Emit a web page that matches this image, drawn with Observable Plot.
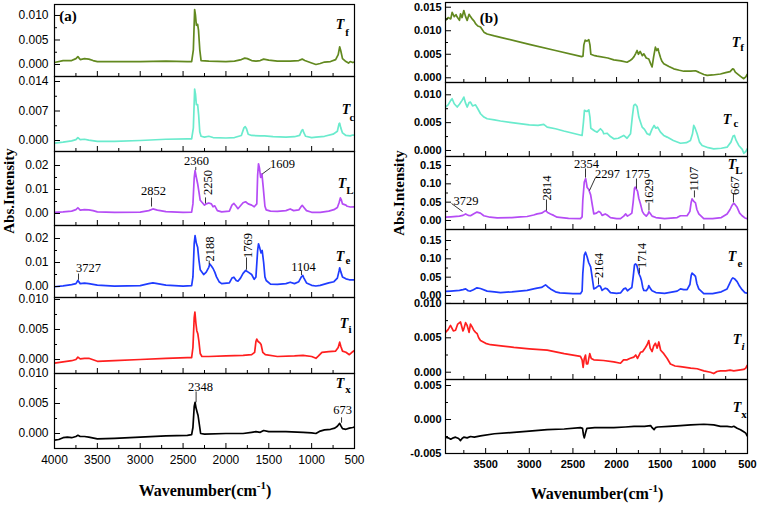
<!DOCTYPE html>
<html><head><meta charset="utf-8">
<script src="https://cdn.jsdelivr.net/npm/d3@7"></script>
<script src="https://cdn.jsdelivr.net/npm/@observablehq/plot@0.6"></script>
<style>
body{margin:0;background:#fff;}
#chart{position:relative;width:758px;height:506px;overflow:hidden;background:#fff;}
#chart svg{position:absolute;overflow:visible;max-width:none;}
.lbl{position:absolute;white-space:nowrap;font-family:"Liberation Serif","Times New Roman",serif;color:#000;line-height:1;transform:translate(-50%,-50%);}
</style></head><body><div id="chart"></div>
<script>
// ---------- tick values ----------
const xMajorA = [4000,3500,3000,2500,2000,1500,1000,500];
const xMinorA = [3750,3250,2750,2250,1750,1250,750];
const xMajorB = [3500,3000,2500,2000,1500,1000,500];
const xMinorB = [3750,3250,2750,2250,1750,1250,750];

// ---------- panel (a) spectra : [wavenumber, absorbance] ----------
const aTf = [[4000,0.0004],[3900,0.0008],[3800,0.0008],[3750,0.0012],[3727,0.0016],[3700,0.0010],[3650,0.0012],[3600,0.0011],[3550,0.0008],[3500,0.0006],[3300,0.0006],[3000,0.0006],[2700,0.0007],[2450,0.0006],[2400,0.0006],[2380,0.0030],[2365,0.0112],[2355,0.0100],[2345,0.0080],[2330,0.0082],[2320,0.0070],[2305,0.0030],[2290,0.0008],[2200,0.0007],[2000,0.0006],[1900,0.0007],[1820,0.0010],[1780,0.0013],[1750,0.0012],[1700,0.0008],[1650,0.0007],[1600,0.0008],[1560,0.0011],[1530,0.0010],[1500,0.0009],[1400,0.0007],[1250,0.0007],[1150,0.0008],[1110,0.0011],[1080,0.0008],[1000,0.0003],[950,0.0000],[900,0.0002],[850,0.0005],[780,0.0006],[720,0.0010],[690,0.0020],[673,0.0036],[660,0.0028],[640,0.0012],[600,0.0006],[570,0.0003],[550,0.0006],[520,0.0004],[500,0.0005]];
const aTc = [[4000,-0.0006],[3900,-0.0004],[3800,-0.0001],[3750,0.0002],[3727,0.0007],[3700,0.0002],[3650,0.0003],[3600,0.0001],[3500,-0.0002],[3300,-0.0002],[3000,0.0000],[2700,0.0003],[2450,0.0004],[2400,0.0004],[2380,0.0030],[2365,0.0122],[2355,0.0110],[2345,0.0085],[2330,0.0085],[2318,0.0060],[2305,0.0020],[2290,0.0010],[2250,0.0008],[2200,0.0010],[2150,0.0007],[2000,0.0006],[1900,0.0007],[1820,0.0012],[1790,0.0030],[1775,0.0033],[1760,0.0028],[1740,0.0015],[1700,0.0012],[1600,0.0011],[1550,0.0011],[1450,0.0009],[1300,0.0008],[1200,0.0009],[1140,0.0012],[1115,0.0024],[1104,0.0026],[1090,0.0018],[1070,0.0010],[1000,0.0007],[950,0.0008],[850,0.0010],[750,0.0015],[700,0.0022],[680,0.0040],[673,0.0041],[660,0.0030],[640,0.0018],[600,0.0012],[550,0.0011],[520,0.0013],[500,0.0013]];
const aTL = [[4000,0.0005],[3900,0.0007],[3800,0.0010],[3750,0.0016],[3727,0.0024],[3700,0.0014],[3650,0.0016],[3600,0.0015],[3550,0.0012],[3500,0.0007],[3300,0.0005],[3000,0.0006],[2900,0.0012],[2852,0.0019],[2800,0.0014],[2700,0.0008],[2500,0.0005],[2400,0.0006],[2385,0.0040],[2370,0.0150],[2360,0.0179],[2345,0.0150],[2330,0.0124],[2315,0.0090],[2300,0.0055],[2275,0.0045],[2250,0.0035],[2230,0.0040],[2200,0.0044],[2170,0.0040],[2150,0.0028],[2130,0.0032],[2100,0.0012],[2050,0.0007],[1960,0.0010],[1930,0.0035],[1907,0.0042],[1880,0.0030],[1860,0.0020],[1840,0.0028],[1800,0.0045],[1771,0.0049],[1740,0.0040],[1700,0.0035],[1670,0.0028],[1640,0.0040],[1630,0.0160],[1620,0.0207],[1609,0.0190],[1595,0.0150],[1580,0.0165],[1565,0.0110],[1545,0.0030],[1530,0.0015],[1480,0.0010],[1400,0.0009],[1300,0.0012],[1250,0.0019],[1210,0.0012],[1150,0.0015],[1120,0.0030],[1110,0.0034],[1090,0.0025],[1060,0.0012],[1000,0.0005],[900,0.0005],[800,0.0010],[740,0.0016],[700,0.0025],[680,0.0045],[665,0.0065],[655,0.0058],[640,0.0040],[600,0.0035],[585,0.0030],[550,0.0027],[500,0.0028]];
const aTe = [[4000,-0.0001],[3900,0.0003],[3800,0.0008],[3750,0.0012],[3727,0.0025],[3700,0.0012],[3650,0.0014],[3600,0.0012],[3500,0.0006],[3300,0.0002],[3000,0.0004],[2900,0.0012],[2852,0.0015],[2800,0.0012],[2700,0.0006],[2500,0.0002],[2400,0.0004],[2385,0.0040],[2370,0.0180],[2360,0.0212],[2345,0.0180],[2330,0.0164],[2315,0.0110],[2300,0.0070],[2260,0.0050],[2230,0.0060],[2200,0.0080],[2188,0.0094],[2170,0.0085],[2150,0.0075],[2130,0.0060],[2110,0.0040],[2080,0.0020],[2050,0.0012],[1960,0.0015],[1930,0.0035],[1907,0.0039],[1880,0.0025],[1860,0.0022],[1830,0.0035],[1800,0.0055],[1769,0.0067],[1740,0.0060],[1700,0.0050],[1670,0.0030],[1650,0.0040],[1630,0.0150],[1620,0.0178],[1605,0.0160],[1590,0.0140],[1577,0.0150],[1560,0.0100],[1545,0.0040],[1530,0.0025],[1480,0.0010],[1400,0.0009],[1300,0.0012],[1250,0.0018],[1200,0.0012],[1150,0.0020],[1120,0.0040],[1104,0.0046],[1090,0.0035],[1060,0.0015],[1000,0.0005],[950,0.0002],[900,0.0005],[800,0.0015],[740,0.0020],[700,0.0035],[680,0.0065],[673,0.0078],[660,0.0062],[640,0.0040],[600,0.0032],[560,0.0028],[500,0.0028]];
const aTi = [[4000,-0.0006],[3900,-0.0004],[3800,-0.0002],[3750,0.0000],[3727,0.0004],[3700,0.0001],[3650,0.0002],[3600,0.0002],[3500,-0.0003],[3300,-0.0002],[3000,0.0000],[2700,0.0002],[2450,0.0003],[2400,0.0003],[2385,0.0020],[2370,0.0070],[2362,0.0079],[2350,0.0060],[2340,0.0048],[2328,0.0043],[2315,0.0030],[2300,0.0010],[2280,0.0005],[2200,0.0005],[2000,0.0006],[1800,0.0007],[1700,0.0008],[1665,0.0012],[1650,0.0030],[1640,0.0034],[1625,0.0030],[1605,0.0028],[1590,0.0025],[1570,0.0012],[1540,0.0008],[1400,0.0005],[1200,0.0006],[1100,0.0007],[1000,0.0005],[950,0.0002],[920,0.0006],[880,0.0012],[800,0.0013],[720,0.0014],[690,0.0020],[673,0.0029],[660,0.0022],[640,0.0014],[600,0.0012],[560,0.0008],[530,0.0012],[500,0.0015]];
const aTx = [[4000,-0.0011],[3950,-0.0010],[3900,-0.0007],[3850,-0.0006],[3800,-0.0007],[3750,-0.0005],[3727,-0.0003],[3700,-0.0005],[3650,-0.0005],[3600,-0.0006],[3500,-0.0009],[3300,-0.0008],[3000,-0.0006],[2700,-0.0004],[2450,-0.0003],[2400,-0.0002],[2385,0.0010],[2370,0.0045],[2360,0.0052],[2348,0.0042],[2335,0.0035],[2325,0.0030],[2310,0.0015],[2295,0.0000],[2250,-0.0001],[2000,0.0000],[1800,0.0000],[1700,0.0002],[1650,0.0003],[1600,0.0002],[1560,0.0005],[1500,0.0003],[1300,0.0003],[1100,0.0002],[1000,0.0001],[950,0.0000],[900,0.0004],[850,0.0006],[780,0.0007],[730,0.0009],[700,0.0012],[673,0.0017],[660,0.0013],[640,0.0008],[600,0.0007],[560,0.0009],[520,0.0010],[500,0.0011]];

// ---------- panel (b) spectra ----------
const bTf = [[3960,0.0122],[3930,0.0128],[3900,0.0125],[3884,0.0139],[3860,0.0130],[3840,0.0134],[3826,0.0129],[3800,0.0122],[3788,0.0136],[3770,0.0128],[3750,0.0143],[3730,0.0130],[3712,0.0122],[3690,0.0135],[3674,0.0130],[3650,0.0124],[3630,0.0120],[3616,0.0115],[3590,0.0110],[3559,0.0108],[3520,0.0097],[3483,0.0093],[3400,0.0089],[3330,0.0086],[3000,0.0071],[2700,0.0058],[2400,0.0045],[2385,0.0046],[2375,0.0070],[2360,0.0080],[2340,0.0078],[2318,0.0081],[2305,0.0070],[2295,0.0050],[2250,0.0047],[2223,0.0046],[2100,0.0042],[2032,0.0038],[1950,0.0036],[1880,0.0033],[1850,0.0036],[1822,0.0040],[1800,0.0045],[1780,0.0052],[1765,0.0058],[1750,0.0050],[1730,0.0056],[1705,0.0047],[1688,0.0051],[1660,0.0042],[1631,0.0040],[1610,0.0030],[1593,0.0023],[1575,0.0045],[1555,0.0065],[1540,0.0058],[1525,0.0062],[1516,0.0055],[1495,0.0042],[1480,0.0035],[1459,0.0030],[1400,0.0024],[1345,0.0019],[1280,0.0016],[1230,0.0014],[1150,0.0014],[1096,0.0015],[1060,0.0012],[1039,0.0010],[1000,0.0007],[963,0.0005],[900,0.0006],[810,0.0008],[750,0.0011],[700,0.0013],[670,0.0019],[657,0.0018],[640,0.0012],[619,0.0009],[580,0.0003],[543,-0.0002],[520,0.0002],[504,0.0007]];
const bTc = [[3960,0.0078],[3930,0.0082],[3900,0.0090],[3884,0.0093],[3860,0.0084],[3826,0.0078],[3800,0.0083],[3770,0.0090],[3750,0.0096],[3730,0.0085],[3712,0.0078],[3690,0.0086],[3674,0.0087],[3650,0.0080],[3616,0.0082],[3590,0.0075],[3559,0.0066],[3520,0.0060],[3483,0.0057],[3400,0.0055],[3330,0.0053],[3200,0.0050],[3000,0.0046],[2900,0.0045],[2834,0.0047],[2795,0.0042],[2700,0.0039],[2605,0.0035],[2500,0.0031],[2395,0.0027],[2380,0.0050],[2368,0.0072],[2340,0.0070],[2318,0.0073],[2305,0.0060],[2295,0.0040],[2250,0.0035],[2223,0.0033],[2185,0.0039],[2160,0.0035],[2147,0.0030],[2108,0.0031],[2070,0.0025],[2032,0.0021],[1980,0.0022],[1918,0.0027],[1880,0.0022],[1840,0.0030],[1820,0.0060],[1803,0.0081],[1785,0.0083],[1765,0.0079],[1745,0.0060],[1720,0.0048],[1707,0.0042],[1680,0.0038],[1650,0.0030],[1620,0.0028],[1595,0.0038],[1570,0.0045],[1550,0.0040],[1530,0.0042],[1497,0.0033],[1460,0.0027],[1421,0.0024],[1350,0.0018],[1268,0.0013],[1200,0.0014],[1154,0.0018],[1130,0.0030],[1116,0.0045],[1100,0.0040],[1077,0.0030],[1050,0.0015],[1020,0.0009],[950,0.0005],[887,0.0003],[800,0.0004],[734,0.0006],[690,0.0015],[665,0.0026],[650,0.0027],[630,0.0018],[600,0.0009],[560,0.0002],[543,-0.0005],[520,-0.0002],[504,0.0003]];
const bTL = [[3960,0.009],[3900,0.010],[3800,0.012],[3760,0.014],[3729,0.018],[3700,0.014],[3674,0.013],[3640,0.018],[3600,0.023],[3560,0.020],[3521,0.013],[3450,0.009],[3368,0.007],[3200,0.008],[3100,0.010],[3025,0.011],[2950,0.015],[2910,0.018],[2860,0.020],[2814,0.027],[2790,0.022],[2757,0.018],[2720,0.014],[2681,0.009],[2550,0.006],[2414,0.005],[2395,0.010],[2387,0.055],[2370,0.105],[2354,0.114],[2337,0.090],[2320,0.085],[2297,0.070],[2280,0.045],[2261,0.018],[2230,0.020],[2204,0.025],[2185,0.022],[2166,0.014],[2130,0.018],[2108,0.015],[2070,0.008],[2000,0.005],[1955,0.005],[1918,0.012],[1895,0.018],[1875,0.012],[1848,0.016],[1825,0.020],[1810,0.050],[1795,0.088],[1785,0.091],[1775,0.086],[1760,0.080],[1745,0.060],[1726,0.045],[1705,0.025],[1688,0.018],[1660,0.012],[1640,0.018],[1629,0.024],[1610,0.018],[1593,0.012],[1550,0.008],[1450,0.005],[1306,0.008],[1268,0.013],[1230,0.013],[1192,0.013],[1160,0.025],[1145,0.050],[1135,0.059],[1115,0.052],[1096,0.048],[1080,0.030],[1058,0.018],[1001,0.005],[900,0.005],[800,0.008],[734,0.018],[700,0.030],[680,0.040],[667,0.045],[650,0.046],[619,0.036],[590,0.020],[562,0.013],[530,0.007],[504,0.005]];
const bTe = [[3960,0.011],[3900,0.012],[3800,0.014],[3760,0.016],[3729,0.018],[3700,0.013],[3674,0.012],[3640,0.016],[3600,0.021],[3560,0.019],[3483,0.012],[3400,0.010],[3330,0.008],[3200,0.010],[3025,0.014],[2950,0.018],[2910,0.020],[2860,0.022],[2814,0.029],[2790,0.024],[2757,0.018],[2700,0.010],[2650,0.007],[2500,0.005],[2414,0.005],[2395,0.012],[2387,0.060],[2370,0.110],[2356,0.118],[2337,0.105],[2320,0.090],[2297,0.078],[2280,0.050],[2261,0.018],[2230,0.022],[2204,0.027],[2185,0.025],[2166,0.014],[2130,0.020],[2108,0.018],[2070,0.008],[2000,0.006],[1955,0.007],[1918,0.018],[1895,0.020],[1875,0.013],[1848,0.018],[1825,0.022],[1810,0.050],[1795,0.083],[1785,0.086],[1770,0.084],[1760,0.075],[1745,0.060],[1726,0.050],[1714,0.040],[1700,0.022],[1688,0.014],[1660,0.013],[1640,0.020],[1631,0.027],[1610,0.018],[1593,0.013],[1550,0.008],[1450,0.006],[1306,0.012],[1268,0.018],[1230,0.016],[1192,0.016],[1160,0.030],[1145,0.055],[1135,0.061],[1115,0.057],[1096,0.052],[1080,0.032],[1058,0.018],[1001,0.005],[900,0.005],[800,0.010],[734,0.018],[700,0.035],[680,0.045],[667,0.048],[650,0.046],[619,0.038],[590,0.025],[562,0.016],[530,0.008],[504,0.006]];
const bTi = [[3960,0.0058],[3930,0.0062],[3903,0.0068],[3870,0.0060],[3845,0.0061],[3820,0.0070],[3788,0.0073],[3760,0.0060],[3750,0.0063],[3730,0.0072],[3712,0.0068],[3690,0.0058],[3674,0.0070],[3655,0.0066],[3636,0.0061],[3615,0.0058],[3597,0.0056],[3580,0.0050],[3559,0.0046],[3500,0.0042],[3445,0.0040],[3300,0.0038],[3177,0.0036],[3000,0.0034],[2795,0.0032],[2600,0.0027],[2414,0.0023],[2395,0.0018],[2383,0.0007],[2370,0.0020],[2356,0.0025],[2345,0.0012],[2330,0.0012],[2318,0.0020],[2307,0.0027],[2290,0.0020],[2261,0.0018],[2150,0.0017],[2032,0.0015],[1955,0.0013],[1920,0.0018],[1879,0.0018],[1850,0.0020],[1803,0.0022],[1780,0.0025],[1760,0.0020],[1726,0.0029],[1700,0.0030],[1669,0.0036],[1650,0.0040],[1631,0.0046],[1615,0.0035],[1593,0.0030],[1575,0.0038],[1555,0.0042],[1535,0.0035],[1516,0.0044],[1495,0.0032],[1459,0.0027],[1420,0.0020],[1383,0.0012],[1330,0.0009],[1268,0.0008],[1150,0.0006],[1077,0.0005],[1000,0.0002],[925,0.0000],[887,-0.0002],[850,0.0001],[810,0.0002],[750,0.0002],[700,0.0003],[657,0.0002],[600,0.0003],[543,0.0004],[520,0.0006],[504,0.0010]];
const bTx = [[3960,-0.0026],[3930,-0.0027],[3900,-0.0029],[3870,-0.0027],[3845,-0.0026],[3810,-0.0028],[3788,-0.0031],[3770,-0.0028],[3750,-0.0026],[3712,-0.0027],[3674,-0.0025],[3630,-0.0026],[3559,-0.0024],[3400,-0.0021],[3177,-0.0019],[3000,-0.0017],[2795,-0.0015],[2600,-0.0014],[2414,-0.0012],[2390,-0.0013],[2380,-0.0022],[2370,-0.0027],[2356,-0.0020],[2340,-0.0013],[2250,-0.0012],[2032,-0.0012],[1900,-0.0011],[1800,-0.0010],[1680,-0.0010],[1610,-0.0009],[1593,-0.0012],[1570,-0.0015],[1555,-0.0012],[1530,-0.0011],[1400,-0.0010],[1268,-0.0009],[1150,-0.0008],[1000,-0.0007],[887,-0.0008],[810,-0.0010],[734,-0.0010],[680,-0.0011],[657,-0.0010],[619,-0.0013],[580,-0.0015],[543,-0.0018],[520,-0.0020],[504,-0.0024]];

// ---------- peak annotations: text position + leader line [wn1,v1,wn2,v2] ----------
const annA_TL = [
  {label:"2360", wn:2343, v:0.0217, rot:0,   l:[2352,0.0194,2352,0.0181]},
  {label:"1609", wn:1340, v:0.0208, rot:0,   l:[1480,0.0190,1575,0.0165]},
  {label:"2852", wn:2845, v:0.0092, rot:0,   l:[2868,0.0067,2868,0.0029]},
  {label:"2250", wn:2215, v:0.0129, rot:-90, l:[2238,0.0067,2238,0.0042]}
];
const annA_Te = [
  {label:"3727", wn:3603, v:0.0079, rot:0,   l:[3720,0.0054,3720,0.0028]},
  {label:"2188", wn:2191, v:0.0156, rot:-90, l:[2195,0.0108,2195,0.0092]},
  {label:"1769", wn:1742, v:0.0171, rot:-90, l:[1760,0.0121,1760,0.0070]},
  {label:"1104", wn:1095, v:0.0083, rot:0,   l:[1118,0.0067,1118,0.0048]}
];
const annA_Tx = [
  {label:"2348", wn:2296, v:0.0078, rot:0, l:[2348,0.0070,2348,0.0052]},
  {label:"673",  wn:640,  v:0.0040, rot:0, l:[651,0.0027,651,0.0018]}
];
const annB_TL = [
  {label:"3729", wn:3725, v:0.0545, rot:0,   l:[3891,0.0464,3765,0.0245]},
  {label:"2814", wn:2792, v:0.0886, rot:-90, l:[2803,0.0573,2803,0.0273]},
  {label:"2354", wn:2345, v:0.1527, rot:0,   l:[2356,0.142,2356,0.117]},
  {label:"2297", wn:2104, v:0.127,  rot:0,   l:[2242,0.117,2310,0.082]},
  {label:"1775", wn:1761, v:0.128,  rot:0,   l:[1772,0.1145,1772,0.087]},
  {label:"1629", wn:1629, v:0.079,  rot:-90, l:[1629,0.049,1629,0.027]},
  {label:"1107", wn:1108, v:0.113,  rot:-90, l:[1108,0.082,1108,0.063]},
  {label:"667",  wn:638,  v:0.095,  rot:-90, l:[661,0.074,661,0.049]}
];
const annB_Te = [
  {label:"2164", wn:2196, v:0.0818, rot:-90, l:[2207,0.049,2207,0.030]},
  {label:"1714", wn:1703, v:0.109,  rot:-90, l:[1738,0.076,1738,0.060]}
];

const SERIF = '"Liberation Serif","Times New Roman",serif';
const SANS = '"Liberation Sans",Arial,sans-serif';
const chart = document.getElementById("chart");

function panel(p) {
  const mL = 50, mR = 12, mT = 6, mB = p.xLabels ? 34 : 6;
  const w = p.right - p.left, h = p.bottom - p.top;
  const minorY = p.yTicks.slice(1).map((t, i) => (t + p.yTicks[i]) / 2);
  const marks = [
    Plot.line(p.data, {x: d => d[0], y: d => d[1], stroke: p.color, strokeWidth: 1.7, clip: true}),
    Plot.frame({stroke: "#000", strokeWidth: 1.2}),
    Plot.tickY(p.yTicks, {y: d => d, insetRight: w - 6, stroke: "#000"}),
    Plot.tickY(minorY, {y: d => d, insetRight: w - 3, stroke: "#000"}),
    Plot.tickX(p.xMajor, {x: d => d, insetTop: h - 5, stroke: "#000"}),
    Plot.tickX(p.xMinor, {x: d => d, insetTop: h - 3, stroke: "#000"}),
    Plot.axisY({ticks: p.yTicks, tickSize: 0, tickPadding: p.pad, tickFormat: d => d.toFixed(p.dec),
      fontSize: p.fs, fontFamily: SANS, fontWeight: p.fw, label: null})
  ];
  if (p.xLabels) marks.push(Plot.axisX({ticks: p.xMajor, tickSize: 0, tickPadding: 7, tickFormat: d => String(d),
      fontSize: p.fs, fontFamily: SANS, fontWeight: p.fw, label: null}));
  if (p.ann) {
    marks.push(Plot.link(p.ann, {x1: d => d.l[0], y1: d => d.l[1], x2: d => d.l[2], y2: d => d.l[3], stroke: "#000", strokeWidth: 0.8}));
    marks.push(Plot.text(p.ann, {x: "wn", y: "v", text: "label", rotate: d => d.rot, fontFamily: SERIF, fontSize: 12.5, fill: "#000"}));
  }
  const svg = Plot.plot({
    width: mL + w + mR, height: mT + h + mB,
    marginLeft: mL, marginRight: mR, marginTop: mT, marginBottom: mB,
    x: {domain: p.xDomain, axis: p.xLabels ? undefined : null},
    y: {domain: p.yDomain},
    style: {background: "transparent", overflow: "visible"},
    marks
  });
  svg.style.left = (p.left - mL) + "px";
  svg.style.top = (p.top - mT) + "px";
  chart.appendChild(svg);
}

const A = {left: 54, right: 354, xDomain: [4000, 500], xMajor: xMajorA, xMinor: xMinorA, pad: 6, fs: 12, fw: "normal"};
const B = {left: 445, right: 747, xDomain: [3960, 500], xMajor: xMajorB, xMinor: xMinorB, pad: 4, fs: 11, fw: "bold"};

const panelsA = [
  {top: 4,   bottom: 76,  yDomain: [-0.00245, 0.01224], yTicks: [0, 0.005, 0.010], dec: 3, data: aTf, color: "#62891f"},
  {top: 76,  bottom: 151, yDomain: [-0.00261, 0.01519], yTicks: [0, 0.007, 0.014], dec: 3, data: aTc, color: "#6aebcd"},
  {top: 151, bottom: 225, yDomain: [-0.005, 0.02583],   yTicks: [0, 0.01, 0.02],    dec: 2, data: aTL, color: "#b54cf5", ann: annA_TL},
  {top: 225, bottom: 297, yDomain: [-0.00458, 0.02542], yTicks: [0, 0.01, 0.02],    dec: 2, data: aTe, color: "#1f3cff", ann: annA_Te},
  {top: 297, bottom: 373, yDomain: [-0.00233, 0.01033], yTicks: [0, 0.005, 0.010], dec: 3, data: aTi, color: "#ff1f1f"},
  {top: 373, bottom: 448, yDomain: [-0.0025, 0.0100],   yTicks: [0, 0.005, 0.010], dec: 3, data: aTx, color: "#000000", ann: annA_Tx, xLabels: true}
];
const panelsB = [
  {top: 2,   bottom: 82,  yDomain: [-0.001, 0.016],     yTicks: [0, 0.005, 0.010, 0.015], dec: 3, data: bTf, color: "#62891f"},
  {top: 82,  bottom: 156, yDomain: [-0.00108, 0.01221], yTicks: [0, 0.005, 0.010], dec: 3, data: bTc, color: "#6aebcd"},
  {top: 156, bottom: 229, yDomain: [-0.0245, 0.1745],   yTicks: [0, 0.05, 0.10, 0.15], dec: 2, data: bTL, color: "#b54cf5", ann: annB_TL},
  {top: 229, bottom: 303, yDomain: [-0.0218, 0.18],     yTicks: [0, 0.05, 0.10, 0.15], dec: 2, data: bTe, color: "#1f3cff", ann: annB_Te},
  {top: 303, bottom: 379, yDomain: [-0.00106, 0.00999], yTicks: [0, 0.005, 0.010], dec: 3, data: bTi, color: "#ff1f1f"},
  {top: 379, bottom: 453, yDomain: [-0.005, 0.00588],   yTicks: [-0.005, 0, 0.005], dec: 3, data: bTx, color: "#000000", xLabels: true}
];
panelsA.forEach(p => panel({...A, ...p}));
panelsB.forEach(p => panel({...B, ...p}));

// ---------- text labels ----------
function label(html, x, y, css) {
  const d = document.createElement("div");
  d.className = "lbl";
  d.innerHTML = html;
  d.style.left = x + "px";
  d.style.top = y + "px";
  if (css) d.style.cssText += css;
  chart.appendChild(d);
}
const seriesNamesA = [["f",340,25,347,32],["c",346,110,352,117],["L",342,184,350,190],["e",340,257,348,260],["i",344,324,350,329],["x",340,384,348,389]];
const seriesNamesB = [["f",736,43,742,47],["c",727,120,736,123],["L",732,165,739,170],["e",732,257,740,263],["i",737,340,743,346],["x",737,408,744,414]];
function seriesLabels(list, italicSub) {
  list.forEach(([s, tx, ty, sx, sy]) => {
    label("T", tx, ty, "font-size:14px;font-weight:bold;font-style:italic;");
    const it = italicSub && s === "i";
    label(s, sx, sy, "font-size:11px;font-weight:bold;" + (it ? "font-style:italic;" : ""));
  });
}
seriesLabels(seriesNamesA, false);
seriesLabels(seriesNamesB, true);

label("(a)", 68, 16, "font-size:15px;font-weight:bold;");
label("(b)", 489, 18, "font-size:15px;font-weight:bold;");
label("Abs.Intensity", 9, 191, "font-size:15px;font-weight:bold;transform:translate(-50%,-50%) rotate(-90deg);");
label("Abs.Intensity", 399, 193, "font-size:15px;font-weight:bold;transform:translate(-50%,-50%) rotate(-90deg);");
const xTitle = 'Wavenumber(cm<span style="font-size:11px;position:relative;top:-7px;">-1</span>)';
label(xTitle, 205, 491, "font-size:16px;font-weight:bold;");
label(xTitle, 597, 494, "font-size:16px;font-weight:bold;");
</script></body></html>
